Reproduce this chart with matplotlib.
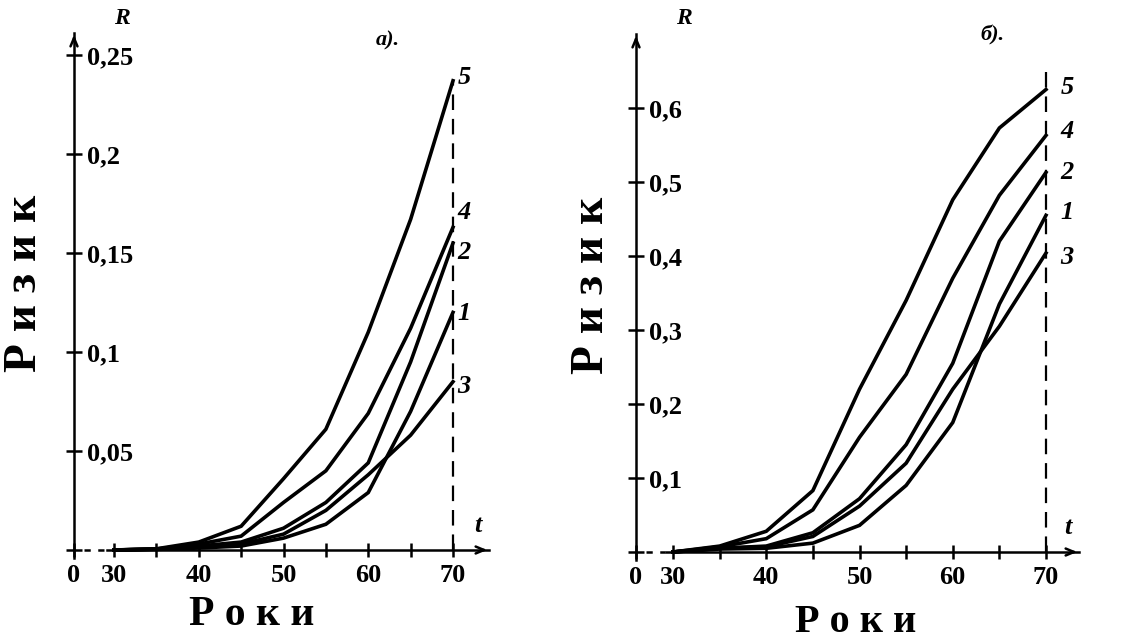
import matplotlib.pyplot as plt
import numpy as np

plt.rcParams['font.family'] = ['Liberation Serif', 'DejaVu Serif']
plt.rcParams['font.weight'] = 'bold'

W, H = 1121, 644

ages = [30, 35, 40, 45, 50, 55, 60, 65, 70]
curve_ids = ["1", "2", "3", "4", "5"]

# а) risk values, curves 1..5
a_curve1 = [0, 0.0003, 0.001, 0.002, 0.006, 0.013, 0.029, 0.070, 0.120]
a_curve2 = [0, 0.0004, 0.002, 0.004, 0.011, 0.024, 0.044, 0.095, 0.155]
a_curve3 = [0, 0.0004, 0.002, 0.003, 0.008, 0.020, 0.038, 0.058, 0.085]
a_curve4 = [0, 0.0005, 0.003, 0.007, 0.024, 0.040, 0.069, 0.112, 0.163]
a_curve5 = [0, 0.0006, 0.004, 0.012, 0.036, 0.061, 0.110, 0.167, 0.237]

# б) risk values, curves 1..5
b_curve1 = [0, 0.004, 0.005, 0.012, 0.036, 0.090, 0.175, 0.335, 0.455]
b_curve2 = [0, 0.005, 0.008, 0.026, 0.072, 0.145, 0.255, 0.420, 0.513]
b_curve3 = [0, 0.005, 0.007, 0.021, 0.062, 0.120, 0.220, 0.305, 0.404]
b_curve4 = [0, 0.007, 0.018, 0.057, 0.155, 0.240, 0.370, 0.482, 0.563]
b_curve5 = [0, 0.008, 0.028, 0.083, 0.220, 0.340, 0.476, 0.573, 0.625]

a_yticks = [0, 0.05, 0.1, 0.15, 0.2, 0.25]
a_ylabels = ["", "0,05", "0,1", "0,15", "0,2", "0,25"]
b_yticks = [0, 0.1, 0.2, 0.3, 0.4, 0.5, 0.6]
b_ylabels = ["", "0,1", "0,2", "0,3", "0,4", "0,5", "0,6"]
x_major = [30, 40, 50, 60, 70]
x_minor = [35, 45, 55, 65]


def make_panel(fig, box, x30, x70, y0, ytop, ytop_val, yaxis_px, arrow_top, arrow_right,
               series, label_dx, label_dy, yticks, ylabels, title, title_xy, dash_top):
    left, right, top, bottom = box
    sx = (x70 - x30) / 40.0
    sy = (y0 - ytop) / ytop_val
    ax = fig.add_axes([left / W, 1 - bottom / H, (right - left) / W, (bottom - top) / H])
    ax.set_xlim(30 - (x30 - left) / sx, 30 + (right - x30) / sx)
    ax.set_ylim(-(bottom - y0) / sy, (y0 - top) / sy)
    ax.patch.set_alpha(0)

    x0 = 30 - (x30 - yaxis_px) / sx
    y_tip = (y0 - arrow_top) / sy
    x_tip = 30 + (arrow_right - x30) / sx

    for s in ["left", "top"]:
        ax.spines[s].set_visible(False)
    ax.spines["right"].set_position(("data", x0))
    ax.spines["right"].set_bounds(-8 / sy, y_tip - 0.5 / sy)
    ax.spines["bottom"].set_position(("data", 0))
    ax.spines["bottom"].set_bounds(30 - 7 / sx, x_tip - 1 / sx)
    for s in ["right", "bottom"]:
        ax.spines[s].set_linewidth(1.8)

    ax.annotate("", xy=(x0, y_tip), xytext=(x0, y_tip - 12 / sy),
                arrowprops=dict(arrowstyle="->,head_length=0.6,head_width=0.25", lw=1.8, color="black"))
    ax.annotate("", xy=(x_tip, 0), xytext=(x_tip - 12 / sx, 0),
                arrowprops=dict(arrowstyle="->,head_length=0.6,head_width=0.25", lw=1.8, color="black"))
    ax.plot([x0 + 10 / sx, 30 - 8 / sx], [0, 0], color="black", lw=1.8, ls=(0, (2.5, 3)))

    ax.yaxis.set_ticks_position("right")
    ax.set_yticks(yticks)
    ax.set_yticklabels(ylabels)
    ax.tick_params(axis="y", direction="inout", length=11, width=1.8, pad=4, labelsize=19)

    ax.set_xticks([x0] + x_major)
    ax.set_xticklabels(["0"] + [str(v) for v in x_major])
    ax.set_xticks(x_minor, minor=True)
    ax.tick_params(axis="x", which="both", direction="inout", length=10, width=1.8, pad=5, labelsize=19)

    ax.plot([70, 70], [0, dash_top], color="black", lw=1.6, ls=(0, (7, 4)))

    for cid, vals, dy in zip(curve_ids, series, label_dy):
        ax.plot(ages, vals, color="black", lw=2.6, solid_joinstyle="miter")
        ax.annotate(cid, xy=(70, vals[-1]), xytext=(label_dx, dy),
                    textcoords="offset pixels", ha="center", va="center",
                    fontsize=19, style="italic", fontweight="bold")

    ax.text(x0 + 48 / sx, y_tip + 14 / sy, "R", fontsize=17, style="italic",
            fontweight="bold", ha="center", va="center")
    ax.text(x_tip - 12 / sx, 24 / sy, "t", fontsize=19, style="italic",
            fontweight="bold", ha="center", va="center")
    ax.text(title_xy[0], title_xy[1], title, transform=fig.transFigure,
            fontsize=16, style="italic", fontweight="bold", ha="center", va="center")
    return ax


fig = plt.figure(figsize=(W / 100, H / 100), dpi=100)

make_panel(fig, (40, 510, 15, 590), 114, 453, 550, 55, 0.25, 74, 32, 490,
           [a_curve1, a_curve2, a_curve3, a_curve4, a_curve5], 11,
           [-1, -9, -5, 15, 3], a_yticks, a_ylabels, "а).",
           (388 / W, 1 - 40 / H), 0.237)
make_panel(fig, (600, 1110, 15, 590), 673, 1046, 552, 108, 0.6, 636, 33, 1080,
           [b_curve1, b_curve2, b_curve3, b_curve4, b_curve5], 21,
           [3, 0, -4, 4, 2], b_yticks, b_ylabels, "б).",
           (993 / W, 1 - 35 / H), 0.649)

fig.text(25 / W, 1 - 283 / H, "Р и з и к", rotation=90, fontsize=34,
         fontweight="bold", ha="center", va="center")
fig.text(592 / W, 1 - 285 / H, "Р и з и к", rotation=90, fontsize=34,
         fontweight="bold", ha="center", va="center")
fig.text(252 / W, 1 - 615 / H, "Р о к и", fontsize=30, fontweight="bold",
         ha="center", va="center")
fig.text(856 / W, 1 - 622 / H, "Р о к и", fontsize=29, fontweight="bold",
         ha="center", va="center")

fig.savefig("out.png", dpi=100)
